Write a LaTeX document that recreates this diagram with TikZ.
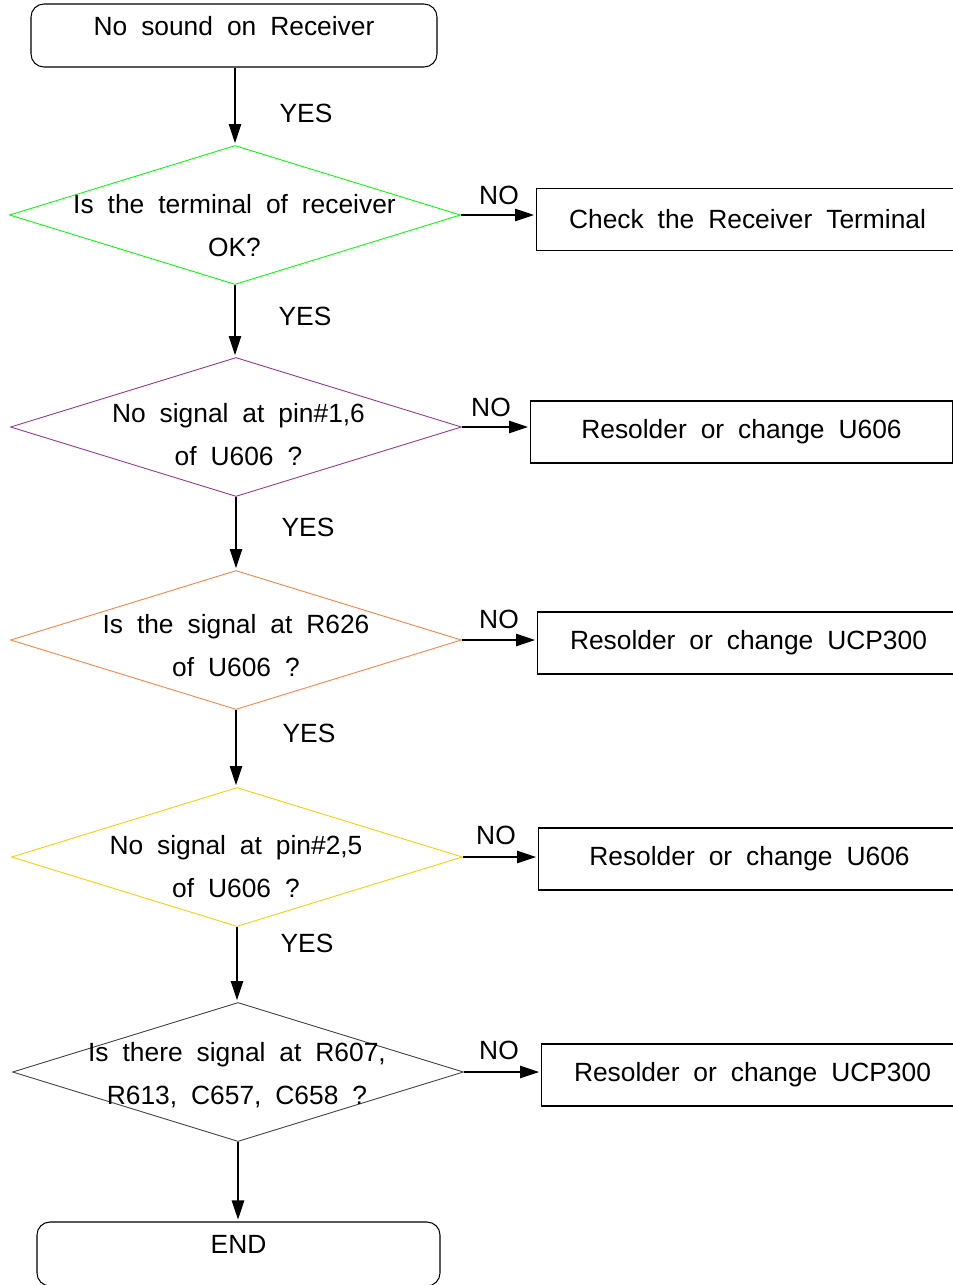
\documentclass[tikz,border=0pt]{standalone}
\usepackage{fontspec}
\setmainfont{Liberation Sans}
\usetikzlibrary{shapes.geometric, arrows.meta, positioning}
\definecolor{chkgreen}{RGB}{0,255,0}
\definecolor{chkpurple}{RGB}{153,51,153}
\definecolor{chkorange}{RGB}{255,128,64}
\definecolor{chkyellow}{RGB}{255,204,0}
\definecolor{chkgray}{RGB}{64,64,64}
\newcommand{\chartfont}{\fontsize{15}{24.5}\selectfont\spaceskip=0.53em plus 0.1em\relax}

\begin{document}
\begin{tikzpicture}[x=0.2mm, y=-0.2mm,
    every node/.style={font=\chartfont},
    term/.style={rectangle, rounded corners=2.6mm, draw, line width=0.6pt, inner sep=0pt,
                 minimum height=12.6mm},
    dec/.style={diamond, draw, line width=0.5pt, inner sep=0pt,
                minimum width=90.2mm, minimum height=27.8mm},
    qtext/.style={align=center, inner sep=0pt},
    fixbox/.style={rectangle, draw, line width=0.6pt, anchor=west,
                   minimum width=84.4mm, minimum height=12.4mm},
    ans/.style={inner sep=0pt},
    ptr/.style={-{Triangle[length=3.8mm, width=2.5mm]}, line width=0.6pt, shorten >=0.4mm}
]
    \useasboundingbox (0,0) rectangle (953,1285);
    \clip (0,0) rectangle (953,1285);

    % start / end
    \node[term, minimum width=81.2mm, text height=6.4mm, text depth=6.2mm] (start) at (234,35.5) {No sound on Receiver};
    \node[term, minimum width=80.6mm, text height=6.2mm, text depth=6.6mm] (stop) at (238.5,1254) {END};

    % checks
    \node[dec, draw=chkgreen]  (d1) at (235,215)  {};
    \node[dec, draw=chkpurple] (d2) at (236,427)  {};
    \node[dec, draw=chkorange] (d3) at (236,640)  {};
    \node[dec, draw=chkyellow] (d4) at (237,857)  {};
    \node[dec, draw=chkgray]   (d5) at (238,1072) {};

    \node[qtext] (q1) at (234.5,225.5) {Is the terminal of receiver\\OK?};
    \node[qtext] (q2) at (238.5,435)   {No signal at pin\#1,6\\of U606 ?};
    \node[qtext] (q3) at (236,645.5)   {Is the signal at R626\\of U606 ?};
    \node[qtext] (q4) at (236,867)     {No signal at pin\#2,5\\of U606 ?};
    \node[qtext] (q5) at (237,1075.5)  {Is there signal at R607,\\R613, C657, C658 ?};

    % repairs
    \node[fixbox] (a1) at (536,219.5) {Check the Receiver Terminal};
    \node[fixbox] (a2) at (530,432)   {Resolder or change U606};
    \node[fixbox] (a3) at (537,643)   {Resolder or change UCP300};
    \node[fixbox] (a4) at (538,859)   {Resolder or change U606};
    \node[fixbox] (a5) at (541,1075)  {Resolder or change UCP300};

    % YES path
    \draw[ptr] (start.south -| d1.north) -- (d1.north);
    \draw[ptr] (d1.south) -- (d1.south |- d2.north);
    \draw[ptr] (d2.south) -- (d2.south |- d3.north);
    \draw[ptr] (d3.south) -- (d3.south |- d4.north);
    \draw[ptr] (d4.south) -- (d4.south |- d5.north);
    \draw[ptr] (d5.south) -- (d5.south |- stop.north);

    \node[ans] (y1) at (306,113) {YES};
    \node[ans] (y2) at (305,316) {YES};
    \node[ans] (y3) at (308,527) {YES};
    \node[ans] (y4) at (309,733) {YES};
    \node[ans] (y5) at (307,943) {YES};

    % NO branches
    \draw[ptr] (d1.east) -- (d1.east -| a1.west);
    \draw[ptr] (d2.east) -- (d2.east -| a2.west);
    \draw[ptr] (d3.east) -- (d3.east -| a3.west);
    \draw[ptr] (d4.east) -- (d4.east -| a4.west);
    \draw[ptr] (d5.east) -- (d5.east -| a5.west);

    \node[ans] (n1) at (499,195)  {NO};
    \node[ans] (n2) at (491,407)  {NO};
    \node[ans] (n3) at (499,619)  {NO};
    \node[ans] (n4) at (496,835)  {NO};
    \node[ans] (n5) at (499,1050) {NO};
\end{tikzpicture}
\end{document}
